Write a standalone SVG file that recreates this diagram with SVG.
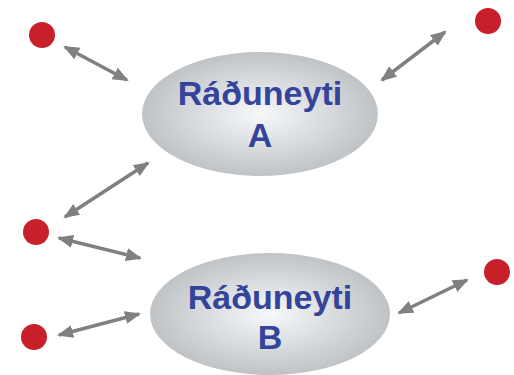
<svg xmlns="http://www.w3.org/2000/svg" width="514" height="375" viewBox="0 0 514 375">
<defs>
<radialGradient id="g" cx="0.5" cy="0.5" r="0.5">
<stop offset="0" stop-color="#f6f8fa"/>
<stop offset="0.6" stop-color="#d6d9db"/>
<stop offset="1" stop-color="#bfc3c5"/>
</radialGradient>
<marker id="ah" markerUnits="userSpaceOnUse" markerWidth="17" markerHeight="14" refX="14" refY="6.5" orient="auto-start-reverse" viewBox="0 0 17 14">
<path d="M0,0 L16,6.5 L0,13 z" fill="#808080"/>
</marker>
<style>
.n{fill:url(#g)}
.t{font-family:"Liberation Sans",Arial,sans-serif;font-weight:bold;font-size:34px;fill:#33449a;text-anchor:middle}
.d{fill:#c8202b}
.c line{stroke:#808080;stroke-width:3.5;marker-start:url(#ah);marker-end:url(#ah)}
</style>
</defs>
<rect width="514" height="375" fill="#ffffff"/>
<g id="nodeA">
<ellipse class="n" cx="260" cy="114" rx="118" ry="62"/>
<text class="t" x="260" y="105">Ráðuneyti</text>
<text class="t" x="260" y="147">A</text>
</g>
<g id="nodeB">
<ellipse class="n" cx="270" cy="314" rx="120" ry="61"/>
<text class="t" x="270" y="309">Ráðuneyti</text>
<text class="t" x="270" y="349">B</text>
</g>
<g id="dots">
<circle class="d" cx="42" cy="35" r="13"/>
<circle class="d" cx="488" cy="21" r="13"/>
<circle class="d" cx="36" cy="232" r="13"/>
<circle class="d" cx="34" cy="337" r="13"/>
<circle class="d" cx="497" cy="272" r="13"/>
</g>
<g id="connectors" class="c">
<line x1="65" y1="47" x2="127" y2="80"/>
<line x1="382" y1="80" x2="445" y2="32"/>
<line x1="65" y1="217" x2="148" y2="163"/>
<line x1="59" y1="238" x2="140" y2="258"/>
<line x1="59" y1="335" x2="139" y2="314"/>
<line x1="399" y1="313" x2="467" y2="280"/>
</g>
</svg>
